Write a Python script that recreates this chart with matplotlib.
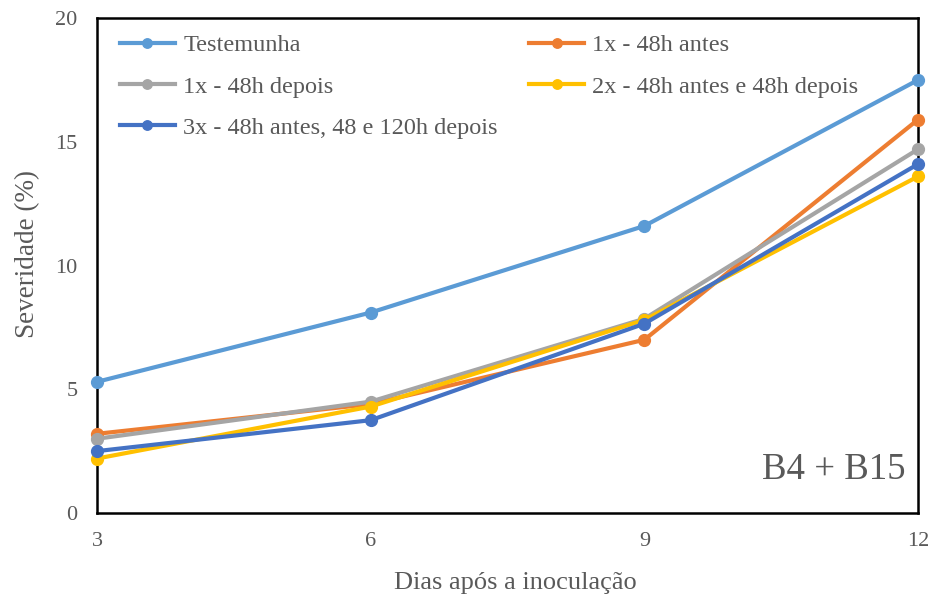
import matplotlib.pyplot as plt

dias = [3, 6, 9, 12]

testemunha = [5.3, 8.1, 11.6, 17.5]
antes_1x = [3.2, 4.4, 7.0, 15.9]
depois_1x = [3.0, 4.5, 7.85, 14.7]
tratamento_2x = [2.2, 4.3, 7.8, 13.6]
tratamento_3x = [2.5, 3.75, 7.65, 14.1]

series = [
    ("Testemunha", testemunha, "#5B9BD5"),
    ("1x - 48h antes", antes_1x, "#ED7D31"),
    ("1x - 48h depois", depois_1x, "#A5A5A5"),
    ("2x - 48h antes e 48h depois", tratamento_2x, "#FFC000"),
    ("3x - 48h antes, 48 e 120h depois", tratamento_3x, "#4472C4"),
]

plt.rcParams["font.family"] = ["Liberation Serif", "DejaVu Serif"]
texto = "#595959"

fig = plt.figure(figsize=(9.36, 6.04), dpi=100)
ax = fig.add_axes([0.1036, 0.1507, 0.8772, 0.8193])

linhas = []
for nome, valores, cor in series:
    l, = ax.plot(dias, valores, color=cor, linewidth=3, marker="o", markersize=8.5,
                 label=nome, clip_on=False, zorder=3)
    linhas.append(l)

ax.set_xlim(3, 12)
ax.set_ylim(0, 20)
ax.set_xticks(dias)
ax.set_yticks([0, 5, 10, 15, 20])
ax.tick_params(length=0, labelsize=16, colors=texto)
ax.tick_params(axis="y", pad=14)
ax.tick_params(axis="x", pad=14)
for s in ax.spines.values():
    s.set_linewidth(1.8)
    s.set_color("black")

ax.set_xlabel("Dias após a inoculação", fontsize=19, color=texto)
ax.set_ylabel("Severidade (%)", fontsize=19.5, color=texto)
ax.xaxis.set_label_coords(0.51, -0.12)
ax.yaxis.set_label_coords(-0.069, 0.523)

# ordem por linhas, como no original
ordem = [0, 2, 4, 1, 3]
ax.legend([linhas[i] for i in ordem], [series[i][0] for i in ordem],
          loc="upper left", ncol=2, frameon=False, fontsize=17.5,
          labelcolor=texto, handlelength=2.25, handletextpad=0.35,
          columnspacing=1.3, borderaxespad=0, borderpad=0,
          labelspacing=0.79, markerscale=0.8, bbox_to_anchor=(0.028, 0.967))

ax.text(0.985, 0.087, "B4 + B15", transform=ax.transAxes, ha="right",
        va="center", fontsize=26.5, color=texto)

fig.savefig("out.png", dpi=100)
